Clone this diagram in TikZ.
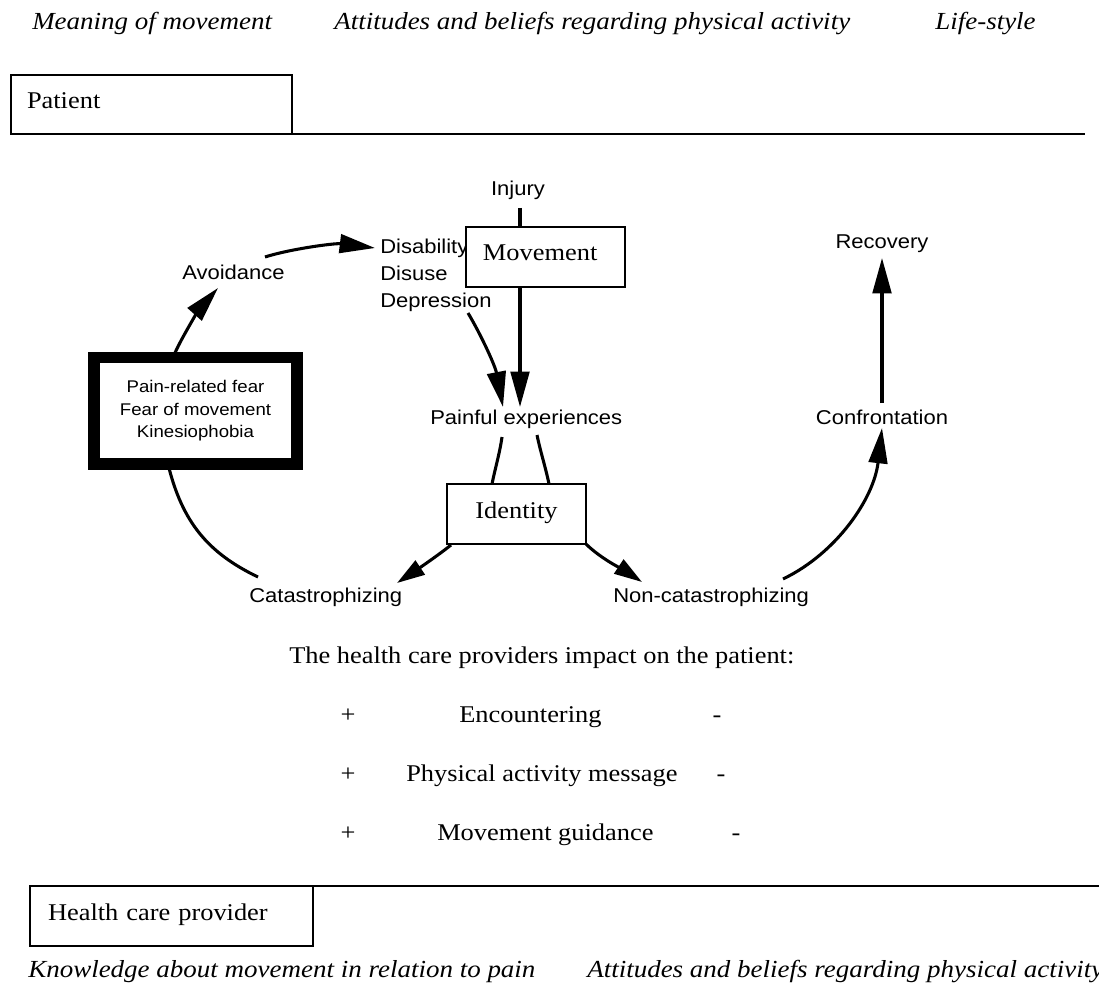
\documentclass[tikz,border=0pt]{standalone}
\usepackage{fontspec}
\setmainfont{Liberation Serif}[FakeStretch=1.1]
\newfontfamily\diagsans{Liberation Sans}[FakeStretch=1.1]
\usetikzlibrary{arrows.meta,calc}

\begin{document}
\begin{tikzpicture}[x=0.75pt,y=-0.75pt,
  serif/.style={font=\fontsize{18}{22}\selectfont, inner sep=0pt},
  itext/.style={font=\fontsize{18.4}{22}\selectfont\itshape, inner sep=0pt, anchor=base west},
  lbl/.style={font=\diagsans\fontsize{15}{18}\selectfont, inner sep=0pt},
  tbox/.style={draw, line width=1pt, fill=white, inner sep=0pt, outer sep=0pt,
    font=\fontsize{18}{22}\selectfont, text height=11pt, text depth=5pt},
  frame/.style={draw, line width=1pt, inner ysep=0pt, outer sep=0pt, align=left,
    font=\fontsize{18}{22}\selectfont, text height=11pt, text depth=5pt},
  conn/.style={line width=2.3pt},
  arr/.style={conn, -{Triangle[length=26.5pt,width=14pt]}},
  sarr/.style={conn, -{Triangle[length=21pt,width=12.5pt]}},
]
\useasboundingbox (0,0) rectangle (1099,984);

% patient side headings
\node[itext] (t1) at (32,29.5) {Meaning of movement};
\node[itext] (t2) at (334,29.5) {Attitudes and beliefs regarding physical activity};
\node[itext] (t3) at (935,29.5) {Life-style};

\node[frame, anchor=north west, minimum height=44.25pt, text width=186.75pt, inner xsep=12pt] (patient) at (11,75) {Patient};
\coordinate (pend) at (1085,134);
\draw[line width=1.3pt] (patient.south east) -- (pend);

% fear-avoidance model
\node[lbl, anchor=base] (injury) at (518,196) {Injury};
\node[lbl, anchor=base west] (dis1) at (380,254) {Disability};
\node[lbl, anchor=base west] (dis2) at (380,280.5) {Disuse};
\node[lbl, anchor=base west] (dis3) at (380,307) {Depression};
\node[lbl, anchor=base west] (avoid) at (182,280) {Avoidance};
\node[lbl, anchor=base west] (painful) at (430,424) {Painful experiences};
\node[lbl, anchor=base west] (cat) at (249,602) {Catastrophizing};
\node[lbl, anchor=base west] (noncat) at (613,602) {Non-catastrophizing};
\node[lbl, anchor=base] (conf) at (882,424) {Confrontation};
\node[lbl, anchor=base] (recov) at (882,249) {Recovery};

\node[draw, line width=8.6pt, minimum width=152.25pt, minimum height=79.9pt,
  inner sep=0pt, outer sep=0pt, align=center,
  font=\diagsans\fontsize{12.7}{16.9}\selectfont] (fear) at (195.5,410.75)
  {Pain-related fear\\Fear of movement\\Kinesiophobia};

\node[tbox, minimum width=119.25pt, minimum height=45pt] (move) at (545.5,257) {Movement\hspace*{8pt}};
\node[tbox, minimum width=104.25pt, minimum height=45pt] (ident) at (516.5,514) {Identity};

% connectors
\draw[conn] ($(injury.base)+(2,12)$) -- ($(move.north west)+(54,0)$);
\draw[arr] ($(move.south west)+(54,0)$) -- ($(painful.base west)+(90,-17)$);
\draw[arr] ($(dis3.base west)+(88,6)$) .. controls +(12,20) and +(-8,-42) .. ($(painful.base west)+(73,-17)$);
\draw[arr] ($(fear.north west)+(79,0)$) .. controls +(8,-20) and +(-16,18) .. ($(avoid.base west)+(36,8)$);
\draw[arr] ($(avoid.base west)+(83,-23)$) .. controls +(25,-8) and +(-40,-5) .. ($(dis1.base west)+(-5,-6)$);
\draw[conn] ($(painful.base west)+(72,13)$) .. controls +(-2,15) and +(3,-15) .. ($(ident.north west)+(45,0)$);
\draw[conn] ($(painful.base west)+(107,11)$) .. controls +(3,15) and +(-3,-15) .. ($(ident.north west)+(102,0)$);
\draw[sarr] ($(ident.south west)+(4,1)$) .. controls +(-15,12) and +(15,-10) .. ($(cat.base west)+(148,-19)$);
\draw[sarr] (ident.south east) .. controls +(15,15) and +(-15,-10) .. ($(noncat.base west)+(29,-20)$);
\draw[conn] ($(fear.south west)+(74,0)$) .. controls +(14,58) and +(-50,-24) .. ($(cat.base west)+(9,-25)$);
\draw[arr] ($(noncat.base west)+(170,-23)$) .. controls +(54,-26) and +(-8,70) .. ($(conf.base)+(0,4)$);
\draw[arr] ($(conf.base)+(0,-21)$) -- ($(recov.base)+(0,9)$);

% health care provider influence
\node[serif, anchor=base west] (impact) at (289,663) {The health care providers impact on the patient:};
\node[serif, anchor=base west] (enc) at (459,722) {Encountering};
\node[serif, anchor=base west] (pam) at (406,781) {Physical activity message};
\node[serif, anchor=base west] (mg) at (437,840) {Movement guidance};
\node[serif, anchor=base] (plus1) at (348,722) {+};
\node[serif, anchor=base] (plus2) at (348,781) {+};
\node[serif, anchor=base] (plus3) at (348,840) {+};
\node[serif, anchor=base] (minus1) at (717,722) {-};
\node[serif, anchor=base] (minus2) at (721,781) {-};
\node[serif, anchor=base] (minus3) at (736,840) {-};

% provider side
\node[frame, anchor=north west, minimum height=45pt, text width=185.25pt, inner xsep=13.5pt] (hcp) at (30,886) {Health care provider};
\coordinate (hend) at (1099,886);
\draw[line width=1.3pt] (hcp.north east) -- (hend);

\node[itext] (b1) at (28,977) {Knowledge about movement in relation to pain};
\node[itext] (b2) at (587,977) {Attitudes and beliefs regarding physical activity};
\end{tikzpicture}
\end{document}
